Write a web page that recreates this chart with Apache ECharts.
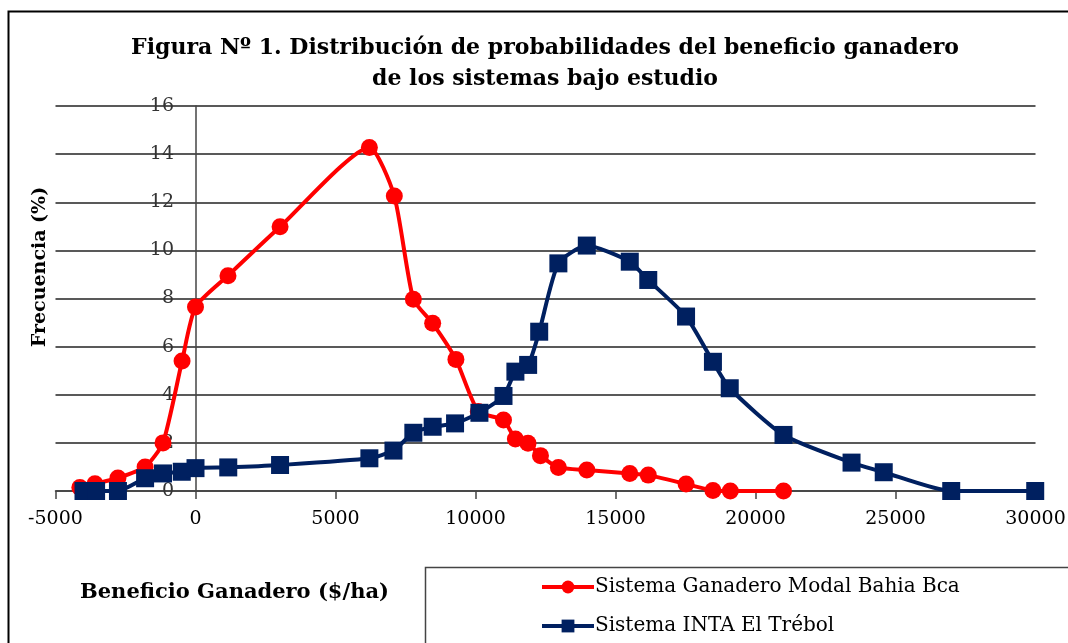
<!DOCTYPE html>
<html>
<head>
<meta charset="utf-8">
<script src="https://cdn.jsdelivr.net/npm/echarts@6/dist/echarts.min.js"></script>
<style>
  html, body { margin: 0; padding: 0; background: #fff; }
  #chart { width: 1068px; height: 643px; }
</style>
</head>
<body>
<div id="chart"></div>
<script>
const titleLines = ["Figura Nº 1. Distribución de probabilidades del beneficio ganadero", "de los sistemas bajo estudio"];
const yAxisTitle = "Frecuencia (%)";
const xAxisTitle = "Beneficio Ganadero ($/ha)";
const seriesNames = ["Sistema Ganadero Modal Bahia Bca", "Sistema INTA El Trébol"];

const redX = [-4130, -3590, -2770, -1800, -1160, -480, 0, 1160, 3020, 6210, 7100, 7780, 8470, 9300, 10100, 11000, 11425, 11875, 12320, 12960, 13975, 15510, 16170, 17520, 18480, 19100, 21000];
const redY = [0.15, 0.3, 0.54, 1.0, 2.0, 5.4, 7.65, 8.95, 10.98, 14.28, 12.26, 7.97, 6.97, 5.47, 3.3, 2.95, 2.16, 1.98, 1.47, 0.98, 0.87, 0.73, 0.66, 0.29, 0.02, 0, 0];

const blueX = [-4000, -3550, -2770, -1800, -1160, -490, 0, 1170, 3020, 6210, 7070, 7780, 8470, 9270, 10140, 11000, 11425, 11880, 12275, 12960, 13975, 15510, 16170, 17520, 18480, 19080, 21000, 23430, 24580, 26990, 29990];
const blueY = [0, 0, 0, 0.53, 0.73, 0.8, 0.95, 0.98, 1.08, 1.36, 1.68, 2.42, 2.67, 2.81, 3.25, 3.95, 4.96, 5.24, 6.62, 9.46, 10.2, 9.53, 8.77, 7.25, 5.37, 4.27, 2.33, 1.18, 0.78, 0, 0];

const xMin = -5000, xMax = 30000, xStep = 5000;
const yMin = 0, yMax = 16, yStep = 2;

const serif = '"DejaVu Serif", "Liberation Serif", serif';
const RED = '#FF0000', NAVY = '#002060';

const redData = redX.map((x, i) => [x, redY[i]]);
const blueData = blueX.map((x, i) => [x, blueY[i]]);

const gridLeft = 55.5;

const legendCommon = {
  orient: 'vertical',
  left: 535,
  itemWidth: 52,
  itemHeight: 16,
  lineStyle: { width: 4 },
  textStyle: { fontFamily: serif, fontSize: 20, color: '#000', padding: [0, 0, 0, -4] }
};

const chart = echarts.init(document.getElementById('chart'), null, { renderer: 'canvas' });
chart.setOption({
  animation: false,
  backgroundColor: '#fff',
  grid: { left: gridLeft, right: 32.5, top: 106, bottom: 152, containLabel: false, outerBoundsMode: 'none' },
  graphic: [
    { type: 'rect', shape: { x: 8.5, y: 11.5, width: 1200, height: 800 }, style: { fill: 'none', stroke: '#000', lineWidth: 2 }, z: 0 },
    { type: 'rect', shape: { x: 425.5, y: 567.5, width: 800, height: 200 }, style: { fill: 'none', stroke: '#444', lineWidth: 1.5 }, z: 0 },
    { type: 'text', x: 545, y: 64, style: { text: titleLines.join('\n'), font: 'bold 22px ' + serif, fill: '#000', align: 'center', verticalAlign: 'middle', lineHeight: 31 } },
    { type: 'text', x: 40, y: 267, rotation: Math.PI / 2, style: { text: yAxisTitle, font: 'bold 19px ' + serif, fill: '#000', align: 'center', verticalAlign: 'middle' } },
    { type: 'text', x: 80, y: 593, style: { text: xAxisTitle, font: 'bold 21px ' + serif, fill: '#000', align: 'left', verticalAlign: 'middle' } }
  ],
  legend: [
    Object.assign({}, legendCommon, { top: 572, data: [seriesNames[0]] }),
    Object.assign({}, legendCommon, { top: 611, data: [seriesNames[1]] })
  ],
  xAxis: {
    type: 'value',
    min: xMin, max: xMax, interval: xStep,
    splitLine: { show: false },
    axisLine: { show: true, lineStyle: { color: '#444', width: 1.5 } },
    axisTick: { show: true, length: 8, lineStyle: { color: '#444', width: 1.5 } },
    axisLabel: { margin: 19, fontFamily: serif, fontSize: 19, color: '#000', formatter: v => String(v) }
  },
  yAxis: {
    type: 'value',
    min: yMin, max: yMax, interval: yStep,
    axisLine: { show: true, onZero: true, lineStyle: { color: '#444', width: 1.5 } },
    axisTick: { show: false },
    axisLabel: { margin: -(174 - gridLeft), fontFamily: serif, fontSize: 19, color: '#333' },
    splitLine: { show: true, lineStyle: { color: '#222', width: 1.5 } }
  },
  series: [
    {
      name: seriesNames[0], type: 'line', data: redData, smooth: 0.2,
      symbol: 'circle', symbolSize: 17,
      lineStyle: { color: RED, width: 4 },
      itemStyle: { color: RED },
      z: 3
    },
    {
      name: seriesNames[1], type: 'line', data: blueData, smooth: 0.2,
      symbol: 'rect', symbolSize: 18,
      lineStyle: { color: NAVY, width: 4 },
      itemStyle: { color: NAVY },
      z: 4
    }
  ]
});
</script>
</body>
</html>
